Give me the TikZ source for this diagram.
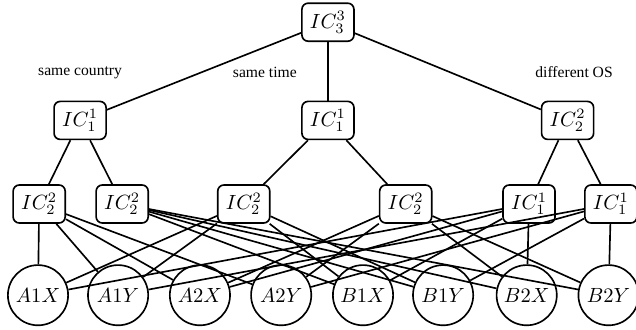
\documentclass[tikz,border=0pt]{standalone}
\usepackage{fontspec}
\setmainfont{Liberation Serif}
\usetikzlibrary{positioning}

\begin{document}
\begin{tikzpicture}[
 icbox/.style={draw, thick, rounded corners=3pt, minimum width=0.89cm, minimum height=0.65cm, inner sep=1pt},
 leaf/.style={draw, thick, circle, minimum size=1.03cm, inner sep=0pt},
 lbl/.style={font=\fontsize{7.6}{9}\selectfont},
 link/.style={thick}
]

\useasboundingbox (0,0) rectangle (10.88,5.63);

% root and the three criteria
\node[icbox] (root) at (5.61,5.25) {$IC_3^3$};

\node[icbox] (country) at (1.37,3.57) {$IC_1^1$};
\node[icbox] (time) at (5.61,3.57) {$IC_1^1$};
\node[icbox] (os) at (9.71,3.57) {$IC_2^2$};

\node[lbl] (lcountry) at (1.37,4.39) {same country};
\node[lbl] (ltime) at (4.53,4.39) {same time};
\node[lbl] (los) at (9.82,4.39) {different OS};

% groups
\node[icbox] (ctryA) at (0.67,2.14) {$IC_2^2$};
\node[icbox] (ctryB) at (2.09,2.14) {$IC_2^2$};
\node[icbox] (timeA) at (4.17,2.14) {$IC_2^2$};
\node[icbox] (timeB) at (6.94,2.14) {$IC_2^2$};
\node[icbox] (osX) at (9.05,2.14) {$IC_1^1$};
\node[icbox] (osY) at (10.45,2.14) {$IC_1^1$};

% leaves
\node[leaf] (a1x) at (0.65,0.58) {$A1X$};
\node[leaf] (a1y) at (2.02,0.58) {$A1Y$};
\node[leaf] (a2x) at (3.42,0.58) {$A2X$};
\node[leaf] (a2y) at (4.81,0.58) {$A2Y$};
\node[leaf] (b1x) at (6.21,0.58) {$B1X$};
\node[leaf] (b1y) at (7.58,0.58) {$B1Y$};
\node[leaf] (b2x) at (9.01,0.58) {$B2X$};
\node[leaf] (b2y) at (10.41,0.58) {$B2Y$};

\draw[link] (root) -- (country);
\draw[link] (root) -- (time);
\draw[link] (root) -- (os);

\draw[link] (country) -- (ctryA);
\draw[link] (country) -- (ctryB);
\draw[link] (time) -- (timeA);
\draw[link] (time) -- (timeB);
\draw[link] (os) -- (osX);
\draw[link] (os) -- (osY);

\foreach \g/\l in {ctryA/a1x, ctryA/a1y, ctryA/a2x, ctryA/a2y,
                   ctryB/b1x, ctryB/b1y, ctryB/b2x, ctryB/b2y,
                   timeA/a1x, timeA/a1y, timeA/b1x, timeA/b1y,
                   timeB/a2x, timeB/a2y, timeB/b2x, timeB/b2y,
                   osX/a1x, osX/a2x, osX/b1x, osX/b2x,
                   osY/a1y, osY/a2y, osY/b1y, osY/b2y}
  \draw[link] (\g) -- (\l);

\end{tikzpicture}
\end{document}
